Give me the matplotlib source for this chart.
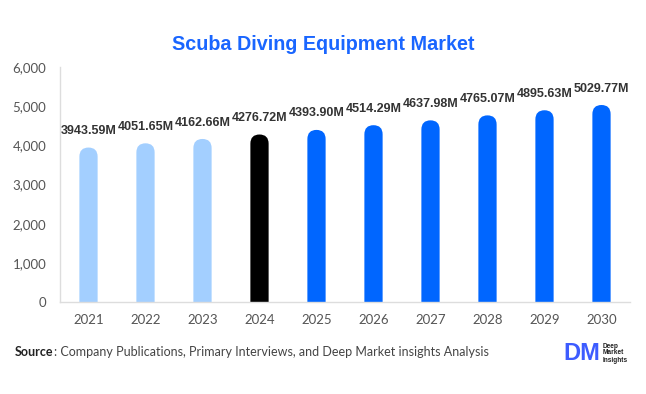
import matplotlib

matplotlib.use("Agg")

import matplotlib.pyplot as plt
from matplotlib.patches import FancyBboxPatch

years = ["2021", "2022", "2023", "2024", "2025", "2026", "2027", "2028", "2029", "2030"]
values = [3943.59, 4051.65, 4162.66, 4276.72, 4393.90, 4514.29, 4637.98, 4765.07, 4895.63, 5029.77]
labels = ["3943.59M", "4051.65M", "4162.66M", "4276.72M", "4393.90M",
          "4514.29M", "4637.98M", "4765.07M", "4895.63M", "5029.77M"]
colors = ["#a3cfff"] * 3 + ["#000000"] + ["#0066ff"] * 6
yticks = [0, 1000, 2000, 3000, 4000, 5000, 6000]

fig = plt.figure(figsize=(6.46, 3.94), dpi=100)
ax = fig.add_axes([60 / 646, 92 / 394, 570 / 646, 235 / 394])

bar_width = 0.32
bars = ax.bar(range(len(years)), values, width=bar_width, color=colors)
ax.set_xlim(-0.5, len(years) - 0.5)
ax.set_ylim(0, 6000)

# swap plain bars for pill-shaped ones (rounded top)
fig.canvas.draw()
px_per_x = ax.transData.transform((1, 0))[0] - ax.transData.transform((0, 0))[0]
px_per_y = ax.transData.transform((0, 1))[1] - ax.transData.transform((0, 0))[1]
radius_x = bar_width / 2
aspect = px_per_x / px_per_y
for bar, color in zip(bars, colors):
    x0 = bar.get_x()
    h = bar.get_height()
    bar.set_visible(False)
    pill = FancyBboxPatch(
        (x0, -1000), bar.get_width(), h + 1000,
        boxstyle=f"round,pad=0,rounding_size={radius_x}",
        mutation_aspect=aspect,
        facecolor=color, edgecolor="none", clip_on=True,
    )
    ax.add_patch(pill)

for i, (v, lab) in enumerate(zip(values, labels)):
    ax.annotate(lab, (i, v), xytext=(0, 7.5), textcoords="offset points",
                ha="center", va="bottom", fontsize=9, fontweight="bold",
                color="#333333", family="Liberation Sans")

ax.set_xticks(range(len(years)), years)
ax.set_yticks(yticks, [f"{t:,}" for t in yticks])
ax.tick_params(length=0, labelsize=9.5, labelcolor="#555555")
ax.tick_params(axis="x", pad=9)
ax.tick_params(axis="y", pad=10)
for t in ax.get_xticklabels() + ax.get_yticklabels():
    t.set_family("Lato")
for side in ["top", "right"]:
    ax.spines[side].set_visible(False)
for side in ["left", "bottom"]:
    ax.spines[side].set_color("#dddddd")
    ax.spines[side].set_linewidth(1)

fig.text(0.5, 1 - 45 / 394, "Scuba Diving Equipment Market", ha="center", va="center",
         fontsize=14.2, fontweight="bold", color="#1a66ff", family="Liberation Sans")

src = fig.text(15 / 646, 1 - 352 / 394, "Source", ha="left", va="center",
               fontsize=9.0, color="#222222", family="Lato", fontweight="bold")
fig.canvas.draw()
src_end = src.get_window_extent().x1 / fig.bbox.width
fig.text(src_end, 1 - 352 / 394, ": Company Publications, Primary Interviews, and Deep Market insights Analysis",
         ha="left", va="center", fontsize=9.0, color="#444444", family="Lato")

# logo
fig.text(563 / 646, 1 - 353 / 394, "DM", ha="left", va="center", fontsize=17,
         fontweight="bold", color="#3d5cff", family="Liberation Sans")
fig.text(603 / 646, 1 - 353 / 394, "Deep\nMarket\nInsights", ha="left", va="center",
         fontsize=4.7, fontweight="bold", color="#222222", family="Liberation Sans",
         linespacing=1.0)

fig.savefig("out.png", dpi=100)
